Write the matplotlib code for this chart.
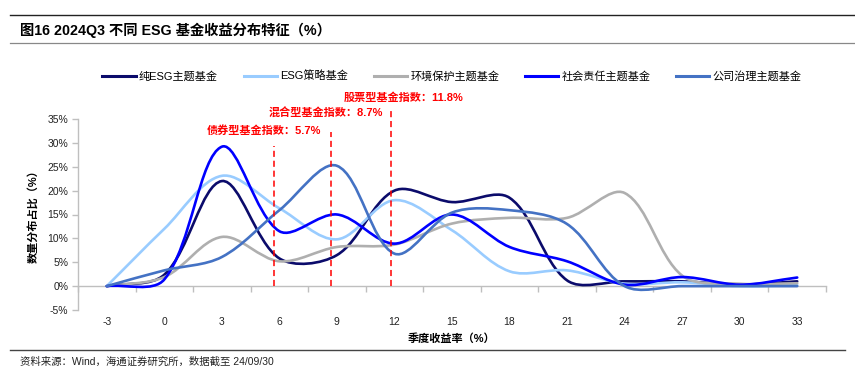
import matplotlib
matplotlib.use("Agg")
import numpy as np
import matplotlib.pyplot as plt
from matplotlib.path import Path
from matplotlib.patches import PathPatch
from matplotlib.lines import Line2D
from matplotlib.ticker import FixedLocator, FuncFormatter

plt.rcParams['font.family'] = ['Liberation Sans', 'Noto Sans CJK SC', 'DejaVu Sans']

# ---------------- data ----------------
categories = [-3, 0, 3, 6, 9, 12, 15, 18, 21, 24, 27, 30, 33]
series_names = ["纯ESG主题基金", "ESG策略基金", "环境保护主题基金", "社会责任主题基金", "公司治理主题基金"]
pure_esg = [0, 2.4, 22.0, 5.8, 6.5, 20.0, 17.6, 18.5, 1.2, 1.0, 1.0, 0.3, 1.0]
esg_strategy = [0, 12.0, 23.1, 16.3, 9.8, 18.0, 11.7, 3.1, 3.3, 0.5, 0.8, 0.0, 0.2]
environment = [0, 1.9, 10.3, 5.2, 8.2, 8.7, 13.1, 14.3, 14.3, 19.5, 2.2, 0.5, 0.6]
social = [0, 1.4, 29.2, 11.5, 15.0, 8.9, 15.0, 8.2, 5.2, 0.3, 1.9, 0.3, 1.8]
governance = [0, 3.3, 6.1, 15.9, 25.2, 6.8, 15.4, 15.9, 13.0, 0.0, 0.0, 0.0, 0.0]
series_colors = ['#0B0B6B', '#99CCFF', '#AFAFAF', '#0000FF', '#4472C4']

index_names = ["债券型基金指数", "混合型基金指数", "股票型基金指数"]
index_values = [5.7, 8.7, 11.8]

y_ticks = [-5, 0, 5, 10, 15, 20, 25, 30, 35]

title = "图16 2024Q3 不同 ESG 基金收益分布特征（%）"
source = "资料来源：Wind，海通证券研究所，数据截至 24/09/30"
xlabel = "季度收益率（%）"
ylabel = "数量分布占比（%）"


def smooth_path(ax, xs, ys, f=1 / 3):
    """Smoothed line (distance-weighted cubic Bezier, similar to Excel smoothing)."""
    data = np.column_stack([xs, ys]).astype(float)
    disp = ax.transData.transform(data)
    n = len(data)
    d = [np.hypot(*(disp[i + 1] - disp[i])) for i in range(n - 1)]
    verts = [tuple(data[0])]
    codes = [Path.MOVETO]
    for i in range(n - 1):
        p1, p2 = data[i], data[i + 1]
        if i > 0:
            c1 = p1 + (p2 - data[i - 1]) * f * d[i] / (d[i - 1] + d[i])
        else:
            c1 = p1 + (p2 - p1) * f
        if i + 2 < n:
            c2 = p2 - (data[i + 2] - p1) * f * d[i] / (d[i] + d[i + 1])
        else:
            c2 = p2 - (p2 - p1) * f
        verts += [tuple(c1), tuple(c2), tuple(p2)]
        codes += [Path.CURVE4] * 3
    return Path(verts, codes)


fig = plt.figure(figsize=(8.55, 3.74), dpi=100)
ax = fig.add_axes([78 / 855, 1 - 310 / 374, (826 - 78) / 855, (310 - 119) / 374])
ax.set_xlim(categories[0] - 1.5, categories[-1] + 1.5)
ax.set_ylim(-5, 35)

all_series = [pure_esg, esg_strategy, environment, social, governance]
handles = []
for name, vals, col in zip(series_names, all_series, series_colors):
    patch = PathPatch(smooth_path(ax, categories, vals), facecolor='none', edgecolor=col,
                      lw=1.9, zorder=3, capstyle='round', joinstyle='round')
    ax.add_patch(patch)
    handles.append(Line2D([], [], color=col, lw=2.2, label=name))

# index reference lines
line_tops = [29.4, 32.3, 36.7]
label_pos = [(5.2, 32.5), (8.4, 36.1), (12.45, 39.5)]
for name, v, top, (lx, ly) in zip(index_names, index_values, line_tops, label_pos):
    ax.plot([v, v], [0, top], color='#FF0000', lw=1.1, ls=(0, (4, 2.5)),
            clip_on=False, zorder=5)
    ax.text(lx, ly, f"{name}：{v}%", color='#FF0000', fontsize=8, fontweight='bold',
            ha='center', va='center', clip_on=False)

# axes styling
for s in ['top', 'right']:
    ax.spines[s].set_visible(False)
ax.spines['left'].set_color('#BFBFBF')
ax.spines['bottom'].set_color('#BFBFBF')
ax.spines['bottom'].set_position(('data', 0))
ax.spines['left'].set_linewidth(1.0)
ax.spines['bottom'].set_linewidth(1.0)

ax.yaxis.set_major_locator(FixedLocator(y_ticks))
ax.yaxis.set_major_formatter(FuncFormatter(lambda v, p: f"{int(v)}%"))
ax.tick_params(axis='y', length=4, width=1, color='#BFBFBF', labelsize=7.5,
               labelcolor='#222222', pad=3)

ax.set_xticks(categories)
ax.set_xticklabels([str(c) for c in categories])
ax.set_xticks([c - 1.5 for c in categories] + [categories[-1] + 1.5], minor=True)
ax.tick_params(axis='x', which='major', length=0, labelsize=7.5, labelcolor='#222222', pad=22.5)
ax.tick_params(axis='x', which='minor', length=4, width=1, color='#BFBFBF', direction='out')

fig.text(452 / 855, 1 - 339 / 374, xlabel, ha='center', va='center', fontsize=8, fontweight='bold')
fig.text(33 / 855, 1 - 214 / 374, ylabel, ha='center', va='center', rotation=90,
         fontsize=8, fontweight='bold')

# legend
fig.legend(handles=handles, loc='center', bbox_to_anchor=(452 / 855, 1 - 76 / 374), ncol=5,
           frameon=False, fontsize=8, handlelength=3.0, handletextpad=0.3,
           columnspacing=2.3)

# title, rules, source
fig.text(20 / 855, 1 - 30 / 374, title, ha='left', va='center', fontsize=10.3, fontweight='bold')
fig.add_artist(Line2D([10 / 855, 1.0], [1 - 15 / 374, 1 - 15 / 374], color='#222222', lw=1.0))
fig.add_artist(Line2D([10 / 855, 1.0], [1 - 43 / 374, 1 - 43 / 374], color='#888888', lw=0.9))
fig.add_artist(Line2D([10 / 855, 845 / 855], [1 - 350 / 374, 1 - 350 / 374], color='#444444', lw=1.0))
fig.text(20 / 855, 1 - 362 / 374, source, ha='left', va='center', fontsize=7.5, color='#222222')

fig.savefig("out.png", dpi=100)
